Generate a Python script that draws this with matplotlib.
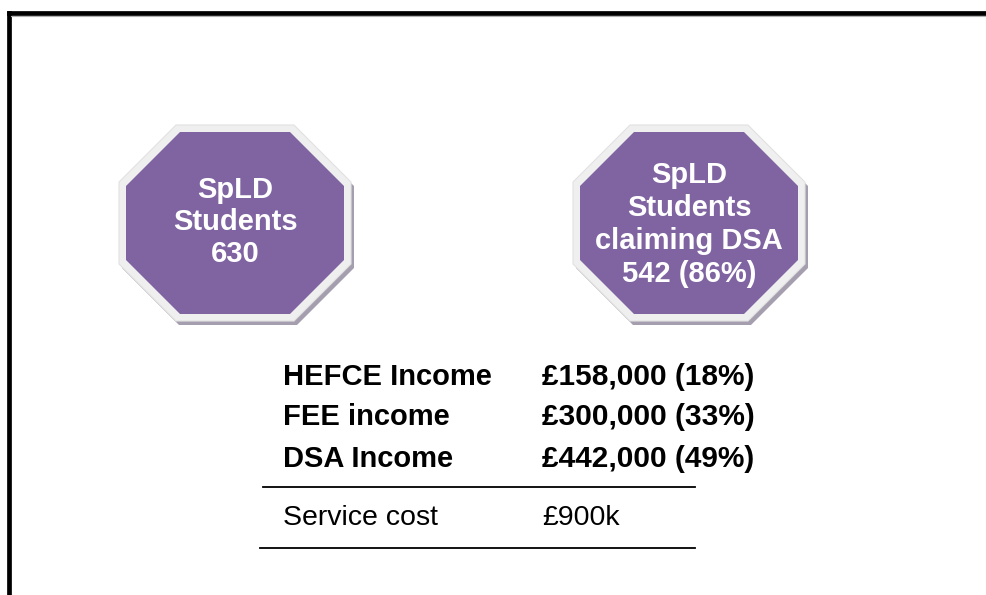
import matplotlib
matplotlib.use("Agg")
import matplotlib.pyplot as plt
from matplotlib.patches import Polygon

plt.rcParams['font.family'] = ['Liberation Sans', 'DejaVu Sans']

# ---- data ----
box_left_lines = ["SpLD", "Students", "630"]
box_right_lines = ["SpLD", "Students", "claiming DSA", "542 (86%)"]
income_labels = ["HEFCE Income", "FEE income", "DSA Income"]
income_values = ["£158,000 (18%)", "£300,000 (33%)", "£442,000 (49%)"]
total_label = "Service cost"
total_value = "£900k"

W, H = 987, 595
fig = plt.figure(figsize=(W / 100, H / 100), dpi=100)
ax = fig.add_axes([0, 0, 1, 1])
ax.set_xlim(0, W)
ax.set_ylim(H, 0)
ax.axis('off')

# frame
ax.plot([9, 9], [H + 5, 13], color='black', lw=3.4, solid_capstyle='projecting')
ax.plot([9, W + 5], [13, 13], color='black', lw=3.4, solid_capstyle='projecting')
ax.plot([11, W + 5], [16, 16], color='#b0b0b0', lw=0.8)


def octagon(cx, cy, hw, hh, cut):
    return [(cx - hw + cut, cy - hh), (cx + hw - cut, cy - hh),
            (cx + hw, cy - hh + cut), (cx + hw, cy + hh - cut),
            (cx + hw - cut, cy + hh), (cx - hw + cut, cy + hh),
            (cx - hw, cy + hh - cut), (cx - hw, cy - hh + cut)]


def badge(cx, cy, lines, base_first, spacing):
    hw, hh, cut = 116, 98, 57
    ax.add_patch(Polygon(octagon(cx + 3, cy + 4, hw, hh, cut), closed=True,
                         facecolor='#a49eae', edgecolor='none'))
    ax.add_patch(Polygon(octagon(cx, cy, hw, hh, cut), closed=True,
                         facecolor='#efefef', edgecolor='#e2e2e2', lw=0.8))
    ax.add_patch(Polygon(octagon(cx, cy, hw - 7, hh - 7, cut - 3), closed=True,
                         facecolor='#8064a2', edgecolor='none'))
    for i, t in enumerate(lines):
        ax.text(cx, base_first + i * spacing, t, ha='center', va='baseline',
                color='white', fontsize=21, fontweight='bold')


badge(235, 223, box_left_lines, 198, 32)
badge(689, 223, box_right_lines, 183, 33)

# income table
label_x, value_x = 283, 542
baselines = [385, 425, 467]
for lab, val, yb in zip(income_labels, income_values, baselines):
    ax.text(label_x, yb, lab, ha='left', va='baseline', fontsize=21,
            fontweight='bold', color='black')
    ax.text(value_x, yb, val, ha='left', va='baseline', fontsize=21.5,
            fontweight='bold', color='black')

ax.plot([263, 695], [487, 487], color='black', lw=1.3)
ax.text(label_x, 525, total_label, ha='left', va='baseline', fontsize=20.5,
        color='black')
ax.text(value_x, 525, total_value, ha='left', va='baseline', fontsize=20.5,
        color='black')
ax.plot([260, 695], [548, 548], color='black', lw=1.3)

fig.savefig('out.png', dpi=100)
